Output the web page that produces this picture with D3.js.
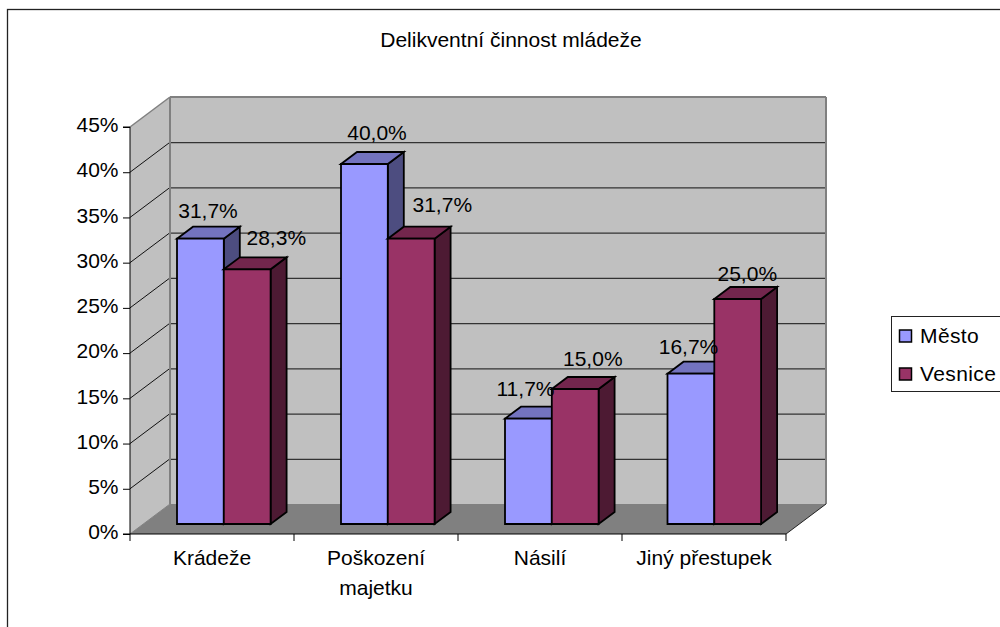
<!DOCTYPE html>
<html><head><meta charset="utf-8">
<script src="https://cdnjs.cloudflare.com/ajax/libs/d3/7.8.5/d3.min.js"></script>
<style>html,body{margin:0;padding:0;background:#fff}svg{display:block}text{font-family:"Liberation Sans",Arial,sans-serif;fill:#000}</style>
</head><body><svg id="c" width="1000" height="627"></svg>
<script>
const title = "Delikventní činnost mládeže";
const categories = [["Krádeže"],["Poškození","majetku"],["Násilí"],["Jiný přestupek"]];
const seriesNames = ["Město","Vesnice"];
const mesto = [31.7,40.0,11.7,16.7];
const vesnice = [28.3,31.7,15.0,25.0];
const yTicks = [0,5,10,15,20,25,30,35,40,45];
const colors = [{f:"#9999ff",t:"#7373bf",s:"#4d4d80"},{f:"#993366",t:"#73264d",s:"#4d1a33"}];
// hand-placed label offsets of the original chart, per series then category
const labelDX = [[31,36,20.5,21],[52.5,54.5,41,33]];
const labelDY = [[-21,-24,-23,-20],[-24,-27,-23,-18]];

const svg = d3.select("#c");
const X0=130,X1=786,Y0=534,Y1=127,DX=40,DY=-30;
const y = d3.scaleLinear().domain([0,45]).range([Y0,Y1]);
const barY = d3.scaleLinear().domain([0,40]).range([524,164]);
const x = d3.scaleBand().domain(categories.map(d=>d.join(" "))).range([X0,X1]);
const poly=(pts,fill,stroke,sw)=>svg.append("polygon").attr("points",pts.map(p=>p.join(",")).join(" ")).attr("fill",fill).attr("stroke",stroke||"none").attr("stroke-width",sw||0).attr("stroke-linejoin","miter");
const line=(a,b,c,w)=>svg.append("line").attr("x1",a[0]).attr("y1",a[1]).attr("x2",b[0]).attr("y2",b[1]).attr("stroke",c).attr("stroke-width",w);

// frame
svg.append("rect").attr("x",7.5).attr("y",9.5).attr("width",1100).attr("height",800).attr("fill","#fff").attr("stroke","#222").attr("stroke-width",1.3);

// walls
poly([[X0+DX,Y0+DY],[X1+DX,Y0+DY],[X1+DX,Y1+DY],[X0+DX,Y1+DY]],"#c0c0c0");
poly([[X0,Y0],[X0+DX,Y0+DY],[X0+DX,Y1+DY],[X0,Y1]],"#c0c0c0");
poly([[X0,Y0],[X1,Y0],[X1+DX,Y0+DY],[X0+DX,Y0+DY]],"#808080");
yTicks.slice(1,-1).forEach(t=>{
  line([X0,y(t)],[X0+DX,y(t)+DY],"#111",1);
  line([X0+DX,y(t)+DY+.5],[X1+DX,y(t)+DY+.5],"#333",1.2);
});
// wall edges
line([X0+DX,Y1+DY],[X1+DX,Y1+DY],"#808080",2);
line([X0+DX,Y1+DY],[X0+DX,Y0+DY],"#808080",2);
line([X1+DX,Y1+DY],[X1+DX,Y0+DY],"#808080",2);
line([X0,Y1],[X0+DX,Y1+DY],"#808080",1.5);
line([X1,Y0],[X1+DX,Y0+DY],"#222",1);
line([X0,Y0],[X0+DX,Y0+DY],"#808080",1);

// axes
const yAxis=d3.axisLeft(y).tickValues(yTicks).tickSize(7).tickFormat(d=>d+"%");
const ga=svg.append("g").attr("transform",`translate(${X0},0)`).call(yAxis);
const xAxisG=svg.append("g").attr("transform",`translate(0,${Y0})`);
xAxisG.append("line").attr("x1",X0).attr("x2",X1).attr("stroke","#000").attr("stroke-width",1.2);
[...categories.map(d=>x(d.join(" "))),X1].forEach(v=>xAxisG.append("line").attr("x1",v).attr("x2",v).attr("y1",0).attr("y2",7).attr("stroke","#000"));
ga.selectAll("path,line").attr("stroke","#000");
ga.select(".domain").attr("d",`M${-7},${Y1}H0V${Y0}H${-7}`);
ga.selectAll("text").style("font-size","21px").style("font-family",'"Liberation Sans"').attr("x",-11.5).attr("y",-2).attr("fill","#000");

// bars
const BW=46.8,BDX=16,BDY=-12,OX=12.5;
const labels=[];
categories.forEach((c,i)=>{
  const left=x(c.join(" "))+(x.bandwidth()-95)/2+OX+(i===3?-1.5:0);
  [mesto[i],vesnice[i]].forEach((v,k)=>{
    const xa=left+k*BW,xb=xa+BW,top=barY(v),bot=barY(0),col=colors[k];
    poly([[xb,top],[xb+BDX,top+BDY],[xb+BDX,bot+BDY],[xb,bot]],col.s,"#000",1.8);
    poly([[xa,top],[xa+BDX,top+BDY],[xb+BDX,top+BDY],[xb,top]],col.t,"#000",1.8);
    poly([[xa,top],[xb,top],[xb,bot],[xa,bot]],col.f,"#000",1.8);
    labels.push({t:v.toFixed(1).replace(".",",")+"%",x:xa+labelDX[k][i],y:top+labelDY[k][i]});
  });
});
svg.append("g").selectAll("text").data(labels).join("text")
  .attr("x",d=>d.x).attr("y",d=>d.y).attr("text-anchor","middle").style("font-size","21px").text(d=>d.t);

// category labels
categories.forEach(c=>{
  const cx=x(c.join(" "))+x.bandwidth()/2;
  c.forEach((l,j)=>svg.append("text").attr("x",cx).attr("y",565+j*30).attr("text-anchor","middle").style("font-size","21px").text(l));
});

// title
svg.append("text").attr("x",511).attr("y",47).attr("text-anchor","middle").style("font-size","21px").text(title);

// legend
svg.append("rect").attr("x",891.5).attr("y",316.5).attr("width",140).attr("height",75).attr("fill","#fff").attr("stroke","#222");
seriesNames.forEach((n,i)=>{
  const ly=336+i*38;
  svg.append("rect").attr("x",899.5).attr("y",ly-6).attr("width",12).attr("height",12).attr("fill",colors[i].f).attr("stroke","#000").attr("stroke-width",1.5);
  svg.append("text").attr("x",920).attr("y",ly+6.5).style("font-size","21px").style("letter-spacing","0.4px").text(n);
});
</script></body></html>
